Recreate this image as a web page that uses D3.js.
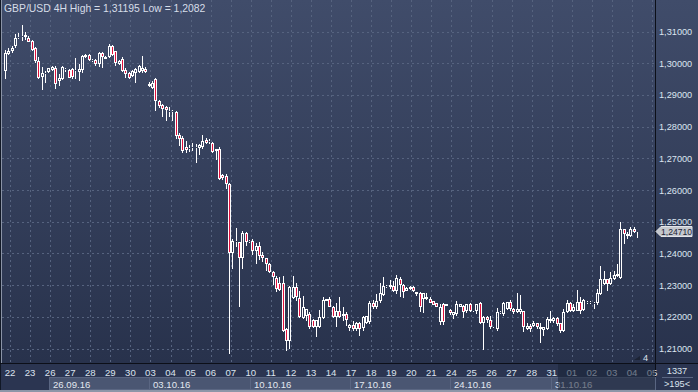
<!DOCTYPE html>
<html>
<head>
<meta charset="utf-8">
<script src="https://cdn.jsdelivr.net/npm/d3@7"></script>
<style>
body { margin: 0; background: #2a3450; }
svg { display: block; font-family: "Liberation Sans", Arial, sans-serif; }
</style>
</head>
<body>
<div id="main_div"></div>
<script>

// GBP/USD 4H candles
const opens = [1.2975,1.3030,1.3038,1.3054,1.3080,1.3082,1.3090,1.3080,1.3070,1.3049,1.3007,1.2955,1.2968,1.2972,1.2980,1.2986,1.2944,1.2950,1.2978,1.2977,
  1.2981,1.2975,1.2973,1.2977,1.3020,1.3025,1.3009,1.3009,1.2996,1.3033,1.3014,1.3020,1.3054,1.3038,1.2998,1.3012,1.2977,1.2970,1.2960,1.2970,
  1.2972,1.2975,1.2983,1.2928,1.2923,1.2949,1.2881,1.2868,1.2862,1.2845,1.2845,1.2845,1.2772,1.2765,1.2736,1.2730,1.2733,1.2735,1.2733,1.2735,
  1.2757,1.2751,1.2749,1.2728,1.2728,1.2646,1.2644,1.2618,1.2400,1.2440,1.2435,1.2387,1.2464,1.2437,1.2440,1.2408,1.2424,1.2395,1.2384,1.2366,
  1.2342,1.2322,1.2308,1.2308,1.2162,1.2125,1.2259,1.2295,1.2259,1.2196,1.2204,1.2209,1.2190,1.2167,1.2167,1.2196,1.2251,1.2256,1.2232,1.2198,
  1.2217,1.2204,1.2209,1.2165,1.2175,1.2162,1.2179,1.2165,1.2179,1.2183,1.2245,1.2230,1.2249,1.2270,1.2293,1.2293,1.2298,1.2280,1.2319,1.2301,
  1.2282,1.2287,1.2295,1.2272,1.2274,1.2256,1.2261,1.2256,1.2249,1.2242,1.2183,1.2240,1.2235,1.2221,1.2207,1.2209,1.2232,1.2235,1.2217,1.2240,
  1.2217,1.2219,1.2245,1.2179,1.2198,1.2190,1.2167,1.2161,1.2211,1.2209,1.2224,1.2248,1.2224,1.2214,1.2214,1.2217,1.2161,1.2172,1.2172,1.2181,
  1.2161,1.2159,1.2161,1.2186,1.2188,1.2196,1.2179,1.2156,1.2214,1.2245,1.2219,1.2219,1.2248,1.2221,1.2242,1.2242,1.2240,1.2242,1.2271,1.2303,
  1.2319,1.2303,1.2319,1.2329,1.2322,1.2476,1.2460,1.2456,1.2478,1.2466];
const highs = [1.3043,1.3049,1.3054,1.3091,1.3096,1.3120,1.3100,1.3085,1.3073,1.3052,1.3019,1.2988,1.2975,1.2986,1.2991,1.2990,1.2965,1.2991,1.2984,1.2982,
  1.2984,1.3017,1.2996,1.3026,1.3030,1.3028,1.3012,1.3012,1.3036,1.3036,1.3022,1.3061,1.3058,1.3040,1.3009,1.3019,1.2986,1.2972,1.2977,1.2984,
  1.2993,1.3022,1.2988,1.2940,1.2944,1.2954,1.2884,1.2870,1.2864,1.2862,1.2852,1.2849,1.2781,1.2770,1.2754,1.2741,1.2747,1.2744,1.2744,1.2775,
  1.2765,1.2760,1.2751,1.2730,1.2736,1.2649,1.2649,1.2623,1.2447,1.2479,1.2437,1.2471,1.2468,1.2442,1.2445,1.2432,1.2435,1.2405,1.2387,1.2369,
  1.2345,1.2330,1.2326,1.2329,1.2165,1.2298,1.2329,1.2308,1.2282,1.2266,1.2225,1.2214,1.2193,1.2190,1.2221,1.2261,1.2256,1.2261,1.2235,1.2245,
  1.2263,1.2230,1.2214,1.2177,1.2188,1.2183,1.2183,1.2204,1.2204,1.2249,1.2253,1.2272,1.2308,1.2326,1.2300,1.2316,1.2312,1.2332,1.2326,1.2305,
  1.2293,1.2298,1.2298,1.2277,1.2277,1.2274,1.2274,1.2261,1.2251,1.2245,1.2240,1.2242,1.2240,1.2225,1.2214,1.2251,1.2240,1.2238,1.2240,1.2242,
  1.2222,1.2240,1.2246,1.2203,1.2202,1.2203,1.2172,1.2227,1.2217,1.2248,1.2248,1.2253,1.2227,1.2274,1.2269,1.2219,1.2182,1.2177,1.2188,1.2182,
  1.2182,1.2167,1.2200,1.2217,1.2200,1.2198,1.2182,1.2224,1.2253,1.2248,1.2240,1.2284,1.2263,1.2256,1.2250,1.2249,1.2246,1.2287,1.2361,1.2345,
  1.2320,1.2340,1.2343,1.2368,1.2499,1.2478,1.2466,1.2482,1.2482,1.2472];
const lows = [1.2949,1.3026,1.3033,1.3049,1.3075,1.3070,1.3072,1.3066,1.3040,1.3001,1.2949,1.2914,1.2939,1.2968,1.2975,1.2918,1.2928,1.2946,1.2972,1.2952,
  1.2949,1.2949,1.2944,1.2970,1.3017,1.3007,1.3004,1.2991,1.2988,1.2986,1.3012,1.3017,1.3024,1.2991,1.2994,1.2973,1.2954,1.2949,1.2955,1.2939,
  1.2968,1.2970,1.2970,1.2926,1.2920,1.2849,1.2860,1.2829,1.2817,1.2831,1.2817,1.2760,1.2739,1.2718,1.2718,1.2720,1.2723,1.2684,1.2709,1.2728,
  1.2744,1.2744,1.2718,1.2695,1.2632,1.2632,1.2602,1.2082,1.2351,1.2419,1.2230,1.2351,1.2424,1.2432,1.2395,1.2366,1.2380,1.2372,1.2345,1.2338,
  1.2300,1.2277,1.2280,1.2151,1.2091,1.2099,1.2256,1.2251,1.2196,1.2193,1.2188,1.2162,1.2165,1.2135,1.2165,1.2193,1.2249,1.2230,1.2196,1.2169,
  1.2196,1.2188,1.2172,1.2156,1.2154,1.2154,1.2138,1.2154,1.2177,1.2177,1.2225,1.2225,1.2245,1.2266,1.2290,1.2287,1.2277,1.2272,1.2261,1.2259,
  1.2280,1.2284,1.2277,1.2266,1.2214,1.2211,1.2253,1.2242,1.2236,1.2230,1.2175,1.2175,1.2233,1.2207,1.2193,1.2204,1.2230,1.2196,1.2211,1.2214,
  1.2215,1.2209,1.2177,1.2095,1.2182,1.2161,1.2165,1.2156,1.2209,1.2203,1.2222,1.2217,1.2209,1.2211,1.2209,1.2151,1.2158,1.2151,1.2167,1.2161,
  1.2116,1.2140,1.2158,1.2179,1.2182,1.2172,1.2148,1.2151,1.2211,1.2214,1.2214,1.2217,1.2209,1.2217,1.2240,1.2240,1.2224,1.2238,1.2269,1.2301,
  1.2280,1.2301,1.2316,1.2326,1.2318,1.2429,1.2445,1.2452,1.2464,1.2450];
const closes = [1.3033,1.3040,1.3049,1.3080,1.3082,1.3085,1.3084,1.3068,1.3043,1.3007,1.2954,1.2970,1.2965,1.2984,1.2988,1.2933,1.2954,1.2988,1.2981,1.2954,
  1.2955,1.2979,1.2981,1.3022,1.3026,1.3009,1.3011,1.2996,1.3033,1.3019,1.3019,1.3054,1.3026,1.3001,1.3006,1.2975,1.2965,1.2954,1.2975,1.2981,
  1.2991,1.2986,1.2972,1.2935,1.2939,1.2881,1.2865,1.2855,1.2852,1.2849,1.2849,1.2770,1.2762,1.2723,1.2726,1.2733,1.2735,1.2733,1.2741,1.2756,
  1.2749,1.2754,1.2720,1.2723,1.2636,1.2638,1.2618,1.2400,1.2440,1.2435,1.2387,1.2464,1.2435,1.2440,1.2408,1.2424,1.2393,1.2384,1.2366,1.2340,
  1.2325,1.2287,1.2284,1.2156,1.2125,1.2293,1.2295,1.2261,1.2198,1.2230,1.2225,1.2169,1.2169,1.2190,1.2198,1.2253,1.2256,1.2232,1.2198,1.2217,
  1.2198,1.2209,1.2190,1.2175,1.2162,1.2179,1.2162,1.2200,1.2204,1.2245,1.2230,1.2251,1.2274,1.2296,1.2298,1.2301,1.2280,1.2322,1.2301,1.2277,
  1.2291,1.2293,1.2280,1.2277,1.2232,1.2274,1.2256,1.2245,1.2238,1.2232,1.2232,1.2183,1.2240,1.2211,1.2214,1.2240,1.2240,1.2214,1.2240,1.2219,
  1.2221,1.2240,1.2182,1.2198,1.2190,1.2167,1.2172,1.2214,1.2216,1.2245,1.2248,1.2224,1.2214,1.2224,1.2224,1.2167,1.2172,1.2161,1.2182,1.2167,
  1.2167,1.2167,1.2193,1.2193,1.2196,1.2177,1.2156,1.2214,1.2245,1.2219,1.2230,1.2248,1.2219,1.2253,1.2248,1.2247,1.2245,1.2274,1.2319,1.2319,
  1.2303,1.2322,1.2332,1.2334,1.2476,1.2462,1.2455,1.2478,1.2468,1.2471];

const dayLabels = ["22","23","26","27","28","29","30","03","04","05","06","07","10","11","12","13","14",
  "17","18","19","20","21","24","25","26","27","28","31","01","02","03","04","05"];
const weekLabels = ["26.09.16","03.10.16","10.10.16","17.10.16","24.10.16","31.10.16"];
const weekFirstDay = [2, 7, 12, 17, 22, 27];
const priceTicks = [1.21,1.22,1.23,1.24,1.25,1.26,1.27,1.28,1.29,1.30,1.31];
const titleText = "GBP/USD 4H High = 1,31195 Low = 1,2082";
const lastPrice = 1.2471;
const barCount = "1337";
const shiftText = ">195<";

const W = 698, H = 392;
const RIGHT = 655, BOTTOM = 363;
const PER_DAY = 6;

const svg = d3.select("#main_div").append("svg")
    .attr("width", W)
    .attr("height", H);

const defs = svg.append("defs");
const grad = defs.append("linearGradient")
    .attr("id", "bg").attr("x1", 0).attr("y1", 0).attr("x2", 0).attr("y2", 1);
grad.append("stop").attr("offset", "0%").attr("stop-color", "#404c6a");
grad.append("stop").attr("offset", "100%").attr("stop-color", "#28324c");

svg.append("rect").attr("x", 0).attr("y", 0).attr("width", W).attr("height", BOTTOM)
    .attr("fill", "url(#bg)");
svg.append("rect").attr("x", 0).attr("y", BOTTOM).attr("width", W).attr("height", H - BOTTOM)
    .attr("fill", "#2b3551");

const n = closes.length;
const xScale = d3.scaleLinear()
    .domain([0, n - 1])
    .range([5, 637]);
const yScale = d3.scaleLinear()
    .domain([1.21, 1.31])
    .range([348.5, 31.5]);

const clip = defs.append("clipPath").attr("id", "plot");
clip.append("rect").attr("x", 2).attr("y", 0).attr("width", RIGHT - 2).attr("height", BOTTOM);

const plot = svg.append("g").attr("clip-path", "url(#plot)");

// grid
const gridX = dayLabels.map((d, i) => Math.round(xScale(i * PER_DAY + 1.5)) + 0.5);
plot.selectAll(".vgrid").data(gridX).enter().append("line")
    .attr("x1", d => d).attr("x2", d => d)
    .attr("y1", 0).attr("y2", BOTTOM)
    .attr("stroke", "#56637f").attr("stroke-dasharray", "2,3");
plot.selectAll(".hgrid").data(priceTicks).enter().append("line")
    .attr("x1", 2).attr("x2", RIGHT)
    .attr("y1", d => Math.round(yScale(d)) + 0.5).attr("y2", d => Math.round(yScale(d)) + 0.5)
    .attr("stroke", "#56637f").attr("stroke-dasharray", "2,3");

// candles
const bars = d3.range(n).map(i => ({ i: i, o: opens[i], h: highs[i], l: lows[i], c: closes[i] }));
const cg = plot.selectAll(".candle").data(bars).enter().append("g");

cg.each(function (d) {
    const g = d3.select(this);
    const left = Math.round(xScale(d.i)) - 1;
    const mid = left + 1.5;
    const top = Math.round(yScale(Math.max(d.o, d.c)));
    const bot = Math.max(Math.round(yScale(Math.min(d.o, d.c))), top + 1);
    const hi = Math.round(yScale(d.h));
    const lo = Math.round(yScale(d.l));
    if (hi < top) g.append("line").attr("x1", mid).attr("x2", mid).attr("y1", hi).attr("y2", top)
        .attr("stroke", "#ffffff");
    if (lo > bot) g.append("line").attr("x1", mid).attr("x2", mid).attr("y1", bot).attr("y2", lo)
        .attr("stroke", "#ffffff");
    g.append("rect")
        .attr("x", left + 0.5).attr("y", top + 0.5)
        .attr("width", 2).attr("height", Math.max(bot - top - 1, 0))
        .attr("fill", d.c < d.o ? "#e0103c" : "none")
        .attr("stroke", "#ffffff");
});

// title
svg.append("text").attr("x", 4).attr("y", 12)
    .attr("font-size", 10.4)
    .attr("fill", "#d6dde8").text(titleText);

// frame lines
svg.append("line").attr("x1", 0.5).attr("x2", 0.5).attr("y1", 0).attr("y2", H).attr("stroke", "#111826");
svg.append("line").attr("x1", 1.5).attr("x2", 1.5).attr("y1", 0).attr("y2", BOTTOM).attr("stroke", "#8a93a6");
svg.append("line").attr("x1", RIGHT + 0.5).attr("x2", RIGHT + 0.5).attr("y1", 0).attr("y2", H).attr("stroke", "#0c0f18");
svg.append("line").attr("x1", 0).attr("x2", W).attr("y1", BOTTOM + 0.5).attr("y2", BOTTOM + 0.5).attr("stroke", "#0c0f18");

// right axis labels
const fmt = v => d3.format(".5f")(v).replace(".", ",");
svg.selectAll(".ylab").data(priceTicks).enter().append("text")
    .attr("x", 659).attr("y", d => yScale(d) + 3.5)
    .attr("font-size", 9.2).attr("fill", "#dce5f0")
    .text(fmt);

// last price tag
const ly = Math.round(yScale(lastPrice)) + 0.5;
svg.append("path")
    .attr("d", `M${RIGHT + 1},${ly} L${RIGHT + 6},${ly - 5} L692,${ly - 5} L692,${ly + 5} L${RIGHT + 6},${ly + 5} Z`)
    .attr("fill", "#c4c8ce").attr("stroke", "#e4e6ea");
svg.append("text").attr("x", 661).attr("y", ly + 3.5)
    .attr("font-size", 8.6).attr("fill", "#1c2233").text(fmt(lastPrice));

// bottom axis: days
svg.selectAll(".dlab").data(dayLabels).enter().append("text")
    .attr("x", (d, i) => xScale(i * PER_DAY + 1.5)).attr("y", 375.5)
    .attr("text-anchor", "middle")
    .attr("font-size", 9.6).attr("fill", "#dbe3ee")
    .text(d => d);

// week boxes
const weeks = weekLabels.map((w, k) => {
    const x0 = Math.round(xScale(weekFirstDay[k] * PER_DAY + 1.5)) - 1;
    const x1 = k < weekLabels.length - 1
        ? Math.round(xScale(weekFirstDay[k + 1] * PER_DAY + 1.5)) - 1 : RIGHT;
    return { label: w, x0: x0, x1: x1 };
});
svg.selectAll(".wbox").data(weeks).enter().append("rect")
    .attr("x", d => d.x0 + 0.5).attr("y", 377.5)
    .attr("width", d => d.x1 - d.x0).attr("height", 12)
    .attr("fill", "#4a5672").attr("stroke", "#5a6682");
svg.selectAll(".wlab").data(weeks).enter().append("text")
    .attr("x", d => d.x0 + 4).attr("y", 387.5)
    .attr("font-size", 9.6).attr("fill", "#e2e8f0")
    .text(d => d.label);

// dimmed strip at the right end of the time axis
svg.append("rect").attr("x", 558).attr("y", BOTTOM + 1).attr("width", RIGHT - 558).attr("height", 26)
    .attr("fill", "#1a2236").attr("opacity", 0.55);

svg.append("rect").attr("x", 0).attr("y", 390).attr("width", W).attr("height", 2).attr("fill", "#8d96a8");

// corner box
svg.append("text").attr("x", 677).attr("y", 374).attr("text-anchor", "middle")
    .attr("font-size", 9.2).attr("fill", "#dbe3ee").text(barCount);
svg.append("line").attr("x1", 662).attr("x2", 693).attr("y1", 377.5).attr("y2", 377.5).attr("stroke", "#5a6682");
svg.append("text").attr("x", 677).attr("y", 387).attr("text-anchor", "middle")
    .attr("font-size", 9.2).attr("fill", "#dbe3ee").text(shiftText);

// scroll marker
svg.append("path").attr("d", "M634,360 L640,356 L640,360 Z").attr("fill", "#1c2334");
svg.append("text").attr("x", 643).attr("y", 361)
    .attr("font-size", 9.2).attr("fill", "#dbe3ee").text("4");

</script>
</body>
</html>
